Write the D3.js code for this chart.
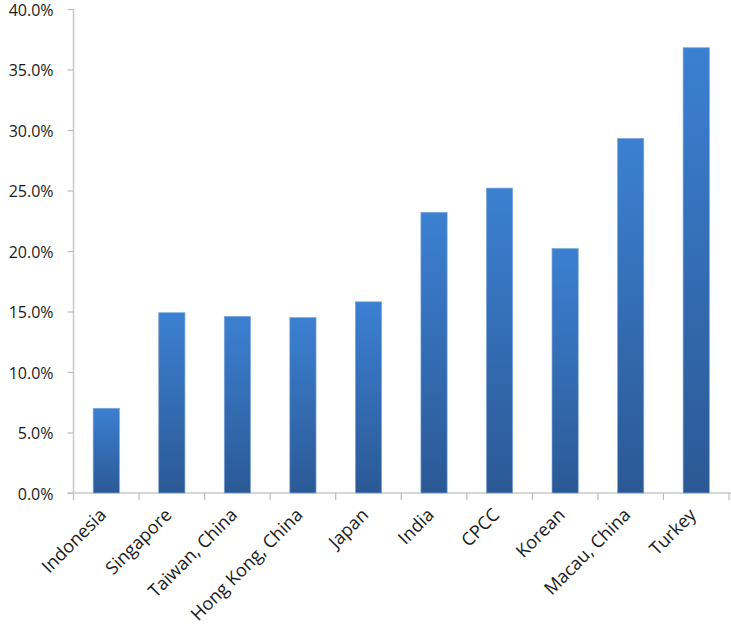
<!DOCTYPE html>
<html><head><meta charset="utf-8">
<script src="https://cdn.jsdelivr.net/npm/d3@7"></script>
<style>body{margin:0;background:#fff;} svg{display:block;}</style>
</head><body>
<svg id="chart" width="731" height="629"></svg>
<script>
const categories = ["Indonesia","Singapore","Taiwan, China","Hong Kong, China","Japan","India","CPCC","Korean","Macau, China","Turkey"];
const values = [7.0, 14.9, 14.6, 14.5, 15.8, 23.2, 25.2, 20.2, 29.3, 36.8];
const yTicks = [0,5,10,15,20,25,30,35,40];

const svg = d3.select("#chart");
const mLeft = 73.5, mRight = 729, mTop = 9, mBottom = 493;
const font = "'Open Sans', 'Noto Sans', sans-serif";

const x = d3.scaleBand().domain(categories).range([mLeft, mRight]).paddingInner(0.6).paddingOuter(0.3);
const xEdges = d3.scaleLinear().domain([0, categories.length]).range([mLeft, mRight]);
const y = d3.scaleLinear().domain([0, 40]).range([mBottom, mTop]);

const defs = svg.append("defs");
const grad = defs.append("linearGradient").attr("id","barGrad").attr("x1",0).attr("y1",0).attr("x2",0).attr("y2",1);
grad.append("stop").attr("offset","0%").attr("stop-color","#3c80d2");
grad.append("stop").attr("offset","100%").attr("stop-color","#2b5995");

// y axis
const yAxis = d3.axisLeft(y).tickValues(yTicks).tickSize(6).tickFormat(d => d.toFixed(1) + "%");
const gy = svg.append("g").attr("transform", `translate(${mLeft},0)`).call(yAxis);
gy.select(".domain").attr("stroke", "#c8c8c8").attr("stroke-width", 1.5).attr("d", `M0,${mBottom}V${mTop}`);
gy.selectAll(".tick line").attr("stroke", "#bdbdbd").attr("stroke-width", 1.2);
gy.selectAll(".tick text").attr("font-family", font).attr("font-size", 16).attr("fill", "#1a1a1a").attr("x", -20).attr("dy", "0.38em");

// x axis line + ticks
svg.append("line").attr("x1", mLeft - 6).attr("x2", mRight + 2).attr("y1", mBottom).attr("y2", mBottom)
  .attr("stroke", "#c8c8c8").attr("stroke-width", 1.5);
svg.selectAll(".xtick").data(d3.range(categories.length + 1)).enter().append("line")
  .attr("x1", i => xEdges(i)).attr("x2", i => xEdges(i)).attr("y1", mBottom).attr("y2", mBottom + 7)
  .attr("stroke", "#bdbdbd").attr("stroke-width", 1.2);

// bars
svg.selectAll(".bar").data(categories).enter().append("rect")
  .attr("x", d => x(d)).attr("width", x.bandwidth())
  .attr("y", (d,i) => y(values[i])).attr("height", (d,i) => mBottom - y(values[i]))
  .attr("fill", "url(#barGrad)").attr("stroke", "#7ea6d8").attr("stroke-width", 0.7);

// x labels
svg.selectAll(".xlabel").data(categories).enter().append("text")
  .attr("transform", d => `translate(${x(d) + x.bandwidth()/2 + 1},${mBottom + 23}) rotate(-45)`)
  .attr("text-anchor", "end")
  .attr("font-family", font).attr("font-size", 18).attr("fill", "#1a1a1a")
  .text(d => d);
</script>
</body></html>
